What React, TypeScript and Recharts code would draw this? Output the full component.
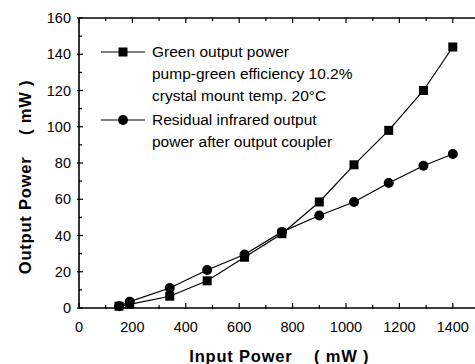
import { LineChart, Line, XAxis, YAxis, Legend, Label } from "recharts";

const inputPower = [150, 190, 340, 480, 620, 760, 900, 1030, 1160, 1290, 1400];
const greenPower = [1, 2, 6.5, 15, 28, 41, 58.5, 79, 98, 120, 144];
const infraredPower = [1, 3.5, 11, 21, 29.5, 42, 51, 58.5, 69, 78.5, 85];

const xTicks = [0, 100, 200, 300, 400, 500, 600, 700, 800, 900, 1000, 1100, 1200, 1300, 1400, 1500];
const yTicks = [0, 10, 20, 30, 40, 50, 60, 70, 80, 90, 100, 110, 120, 130, 140, 150, 160];

const greenLegend = ["Green output power", "pump-green efficiency 10.2%", "crystal mount temp. 20°C"];
const infraredLegend = ["Residual infrared output", "power after output coupler"];

const xTitle = "Input Power\u00a0\u00a0\u00a0\u00a0(\u00a0mW\u00a0)";
const yTitle = "Output Power\u00a0\u00a0\u00a0\u00a0(\u00a0mW\u00a0)";

const FONT = '"Liberation Sans", Arial, Helvetica, sans-serif';

const data = inputPower.map((x, i) => ({
  x,
  green: greenPower[i],
  ir: infraredPower[i],
}));

// eslint-disable-next-line @typescript-eslint/no-explicit-any
function BottomTick({ x, y, payload }: any) {
  const v = payload.value;
  const major = v % 200 === 0;
  return (
    <g>
      <line x1={x} x2={x} y1={y + 1} y2={y - (major ? 5 : 3)} stroke="#000" strokeWidth={1.2} />
      {major && v <= 1400 && (
        <text x={x} y={y + 24} textAnchor="middle" fontSize={14.5} fontFamily={FONT} fill="#000">
          {v}
        </text>
      )}
    </g>
  );
}

// eslint-disable-next-line @typescript-eslint/no-explicit-any
function TopTick({ x, y, payload }: any) {
  const major = payload.value % 200 === 0;
  return <line x1={x} x2={x} y1={y} y2={y + (major ? 5 : 3)} stroke="#000" strokeWidth={1.2} />;
}

// eslint-disable-next-line @typescript-eslint/no-explicit-any
function LeftTick({ x, y, payload }: any) {
  const v = payload.value;
  const major = v % 20 === 0;
  return (
    <g>
      <line x1={x - (major ? 2 : 0)} x2={x + (major ? 4 : 3)} y1={y} y2={y} stroke="#000" strokeWidth={1.2} />
      {major && (
        <text x={x - 8} y={y + 5} textAnchor="end" fontSize={14.5} fontFamily={FONT} fill="#000">
          {v}
        </text>
      )}
    </g>
  );
}

// eslint-disable-next-line @typescript-eslint/no-explicit-any
function RightTick({ x, y, payload }: any) {
  const major = payload.value % 20 === 0;
  return <line x1={x} x2={x - (major ? 5 : 3)} y1={y} y2={y} stroke="#000" strokeWidth={1.2} />;
}

// eslint-disable-next-line @typescript-eslint/no-explicit-any
function SquareDot({ cx, cy }: any) {
  if (cx == null || cy == null) return null;
  return <rect x={cx - 4.5} y={cy - 4.5} width={9} height={9} fill="#000" />;
}

function LegendIcon({ square }: { square: boolean }) {
  return (
    <svg width={46} height={22} style={{ flexShrink: 0 }}>
      <line x1={1} x2={45} y1={11} y2={11} stroke="#000" strokeWidth={1.2} />
      {square ? <rect x={18.5} y={6.5} width={9} height={9} fill="#000" /> : <circle cx={23} cy={11} r={5} fill="#000" />}
    </svg>
  );
}

function ChartLegend() {
  const entries = [
    { square: true, lines: greenLegend },
    { square: false, lines: infraredLegend },
  ];
  return (
    <div style={{ fontFamily: FONT, fontSize: 15.5, lineHeight: "22px", color: "#000" }}>
      {entries.map((e, i) => (
        <div key={i} style={{ display: "flex", gap: 6, marginTop: i ? 2 : 0 }}>
          <LegendIcon square={e.square} />
          <div>
            {e.lines.map((l) => (
              <div key={l} style={{ whiteSpace: "nowrap" }}>
                {l}
              </div>
            ))}
          </div>
        </div>
      ))}
    </div>
  );
}

export default function App() {
  return (
    <div
      style={{
        position: "fixed",
        left: 0,
        top: 0,
        width: 475,
        height: 364,
        overflow: "hidden",
        background: "#fff",
      }}
    >
      <LineChart width={490} height={364} data={data} margin={{ top: 17, right: 9.5, bottom: 55, left: 78 }}>
        <XAxis
          dataKey="x"
          type="number"
          domain={[0, 1500]}
          ticks={xTicks}
          interval={0}
          height={1}
          tickSize={0}
          tickMargin={0}
          tickLine={false}
          tick={<BottomTick />}
          axisLine={{ stroke: "#000", strokeWidth: 1.6 }}
        >
          <Label
            content={({ viewBox }: any) => (
              <text
                x={viewBox.x + viewBox.width / 2}
                y={viewBox.y + 54}
                textAnchor="middle"
                fontSize={16.5}
                fontWeight="bold"
                fontFamily={FONT}
                fill="#000"
                letterSpacing={0.8}
              >
                {xTitle}
              </text>
            )}
          />
        </XAxis>
        <XAxis
          xAxisId="top"
          orientation="top"
          dataKey="x"
          type="number"
          domain={[0, 1500]}
          ticks={xTicks}
          interval={0}
          height={1}
          tickSize={0}
          tickMargin={0}
          tickLine={false}
          tick={<TopTick />}
          axisLine={{ stroke: "#000", strokeWidth: 1.6 }}
        />
        <YAxis
          type="number"
          domain={[0, 160]}
          ticks={yTicks}
          interval={0}
          width={1}
          tickSize={0}
          tickMargin={0}
          tickLine={false}
          tick={<LeftTick />}
          axisLine={{ stroke: "#000", strokeWidth: 1.6 }}
        >
          <Label
            content={({ viewBox }: any) => {
              const cx = viewBox.x + viewBox.width - 48;
              const cy = viewBox.y + viewBox.height / 2 + 14;
              return (
                <text
                  x={cx}
                  y={cy}
                  transform={`rotate(-90 ${cx} ${cy})`}
                  textAnchor="middle"
                  fontSize={16.5}
                  fontWeight="bold"
                  fontFamily={FONT}
                  fill="#000"
                  letterSpacing={0.8}
                >
                  {yTitle}
                </text>
              );
            }}
          />
        </YAxis>
        <YAxis
          yAxisId="right"
          orientation="right"
          type="number"
          domain={[0, 160]}
          ticks={yTicks}
          interval={0}
          width={1}
          tickSize={0}
          tickMargin={0}
          tickLine={false}
          tick={<RightTick />}
          axisLine={{ stroke: "#000", strokeWidth: 1.6 }}
        />
        <Legend
          layout="vertical"
          align="center"
          verticalAlign="middle"
          content={<ChartLegend />}
          wrapperStyle={{ top: 41, left: 100, width: 330 }}
        />
        <Line
          dataKey="ir"
          stroke="#000"
          strokeWidth={1.2}
          dot={{ r: 5, fill: "#000", stroke: "#000", strokeWidth: 0 }}
          isAnimationActive={false}
        />
        <Line
          dataKey="green"
          stroke="#000"
          strokeWidth={1.2}
          dot={<SquareDot />}
          isAnimationActive={false}
        />
      </LineChart>
    </div>
  );
}
